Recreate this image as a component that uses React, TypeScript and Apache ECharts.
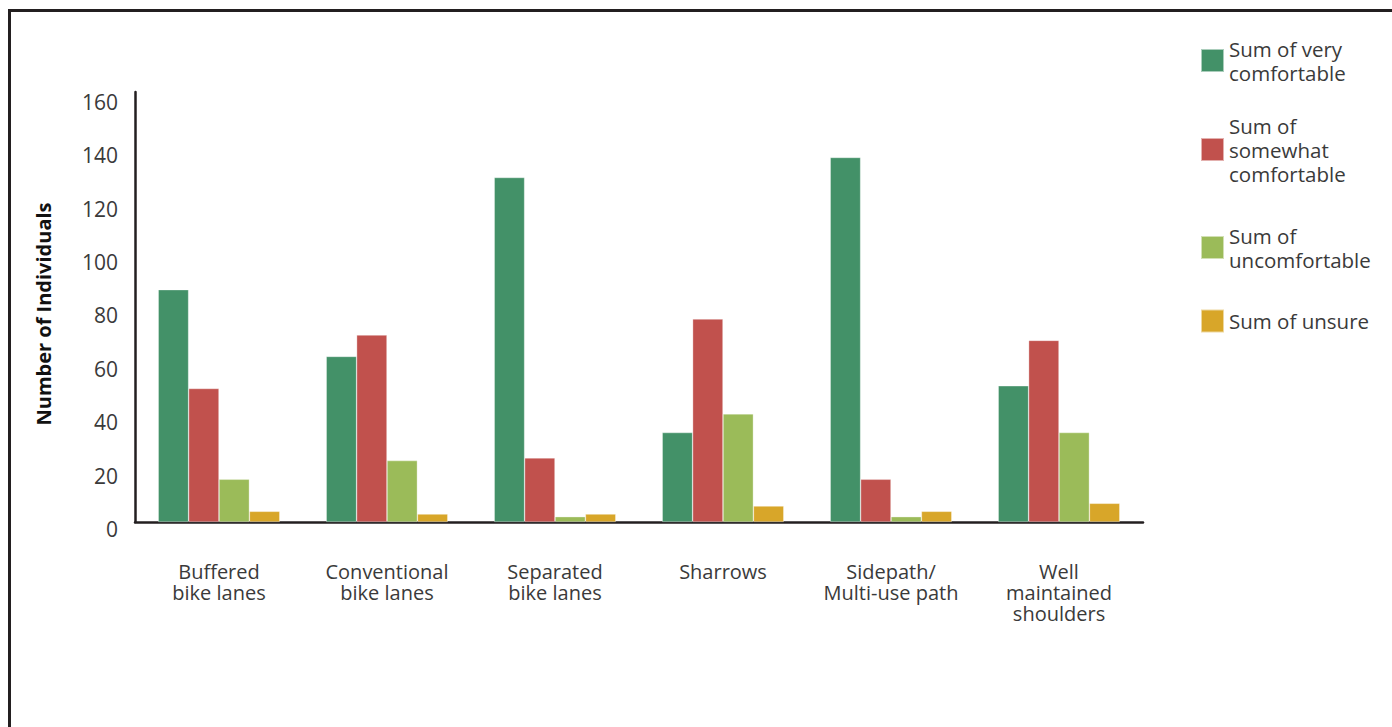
import React, { useEffect, useRef } from "react";
import * as echarts from "echarts";

// Facility types along the x axis
const categories = [
  "Buffered\nbike lanes",
  "Conventional\nbike lanes",
  "Separated\nbike lanes",
  "Sharrows",
  "Sidepath/\nMulti-use path",
  "Well\nmaintained\nshoulders",
];

// Number of respondents per comfort level
const seriesNames = [
  "Sum of very comfortable",
  "Sum of somewhat comfortable",
  "Sum of uncomfortable",
  "Sum of unsure",
];
const legendLabels = [
  "Sum of very\ncomfortable",
  "Sum of\nsomewhat\ncomfortable",
  "Sum of\nuncomfortable",
  "Sum of unsure",
];
const veryComfortable = [87, 62, 129, 33.5, 136.5, 51];
const somewhatComfortable = [50, 70, 24, 76, 16, 68];
const uncomfortable = [16, 23, 2, 40.5, 2, 33.5];
const unsure = [4, 3, 3, 6, 4, 7];

const seriesValues = [veryComfortable, somewhatComfortable, uncomfortable, unsure];
const colors = ["#439168", "#c1514d", "#9bbb59", "#d8a629"];

const yTicks = [0, 20, 40, 60, 80, 100, 120, 140, 160];

const FONT = "'Open Sans', 'Noto Sans', sans-serif";
const INK = "#231f20";
const TEXT = "#3a3a3a";

// Vertical centre of each legend entry
const legendCenters = [60.5, 149.5, 247.5, 320.5];

export default function App() {
  const ref = useRef<HTMLDivElement>(null);

  useEffect(() => {
    if (!ref.current) return;
    const chart = echarts.init(ref.current, undefined, { renderer: "svg" });

    const legends = seriesNames.map((name, i) => {
      const lines = legendLabels[i].split("\n").length;
      const h = Math.max(23, lines * 24);
      return {
        data: [name],
        left: 1200,
        top: legendCenters[i] - h / 2,
        orient: "vertical",
        padding: 0,
        itemWidth: 23,
        itemHeight: 23,
        itemGap: 6,
        icon: "rect",
        selectedMode: false,
        formatter: () => legendLabels[i],
        textStyle: {
          fontFamily: FONT,
          fontSize: 20.5,
          lineHeight: 24,
          color: TEXT,
        },
      };
    });

    chart.setOption({
      animation: false,
      backgroundColor: "#ffffff",
      textStyle: { fontFamily: FONT },
      graphic: [
        {
          type: "rect",
          shape: { x: 9.5, y: 10.5, width: 1600, height: 1000 },
          style: { fill: "none", stroke: INK, lineWidth: 3 },
          silent: true,
        },
      ],
      legend: legends,
      grid: { left: 135, right: 249, top: 92, bottom: 205 },
      xAxis: {
        type: "category",
        data: categories,
        axisLine: { show: true, lineStyle: { color: INK, width: 2.5 } },
        axisTick: { show: false },
        axisLabel: {
          margin: 39,
          fontFamily: FONT,
          fontSize: 20,
          lineHeight: 21,
          color: TEXT,
          interval: 0,
        },
      },
      yAxis: {
        type: "value",
        min: 0,
        max: 161,
        interval: 20,
        name: "Number of Individuals",
        nameLocation: "middle",
        nameGap: 82,
        nameRotate: 90,
        nameTextStyle: {
          fontFamily: FONT,
          fontSize: 20,
          fontWeight: "bold",
          color: "#111",
          padding: [0, 14, 0, 0],
        },
        axisLine: { show: true, lineStyle: { color: INK, width: 2.5 } },
        axisTick: { show: false },
        splitLine: { show: false },
        axisLabel: {
          margin: 17,
          fontFamily: FONT,
          fontSize: 21,
          color: TEXT,
          verticalAlign: "top",
          lineHeight: 14,
          showMaxLabel: false,
          formatter: (v: number) => (yTicks.includes(v) ? String(v) : ""),
        },
      },
      series: seriesValues.map((vals, i) => ({
        name: seriesNames[i],
        type: "bar",
        data: vals,
        barWidth: 30.4,
        barGap: "0%",
        itemStyle: {
          color: colors[i],
          borderColor: "rgba(255,255,255,0.55)",
          borderWidth: 0.6,
        },
      })),
    });

    return () => chart.dispose();
  }, []);

  return (
    <div
      ref={ref}
      style={{ position: "fixed", left: 0, top: 0, width: 1392, height: 727 }}
    />
  );
}
